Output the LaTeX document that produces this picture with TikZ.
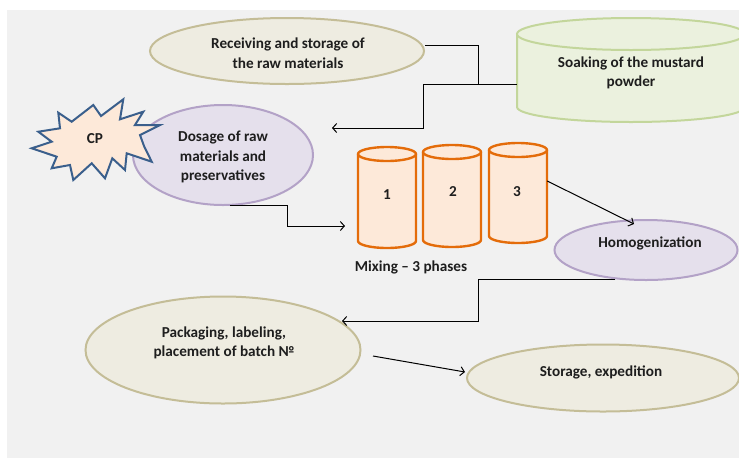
\documentclass[tikz,border=0pt]{standalone}
\usepackage{fontspec}
\setmainfont{Carlito}
\usetikzlibrary{arrows.meta,shapes.geometric}
\definecolor{bgc}{HTML}{F1F1F1}
\definecolor{tanfill}{HTML}{EEECE1}
\definecolor{tanline}{HTML}{C4BD97}
\definecolor{grnfill}{HTML}{EBF1DE}
\definecolor{grnline}{HTML}{C3D69B}
\definecolor{lavfill}{HTML}{E5E0EC}
\definecolor{lavline}{HTML}{B3A2C7}
\definecolor{orfill}{HTML}{FDE9D9}
\definecolor{orline}{HTML}{E46C0A}
\definecolor{starline}{HTML}{3A5F8C}
\definecolor{txt}{HTML}{1E1E1E}
\begin{document}
\begin{tikzpicture}[x=1pt,y=-1pt,
  lbl/.style={font=\fontsize{15.2}{19.5}\selectfont\bfseries, align=center, inner sep=0pt, text=txt},
  shapebase/.style={ellipse, inner sep=0pt, line width=2pt},
  tanell/.style={shapebase, draw=tanline, fill=tanfill},
  lavell/.style={shapebase, draw=lavline, fill=lavfill},
  orcyl/.style={draw=orline, fill=orfill, line width=2.4pt, line join=round},
  grncyl/.style={draw=grnline, fill=grnfill, line width=2pt},
  starst/.style={draw=starline, fill=orfill, line width=2pt, line join=miter},
  box/.style={rectangle, inner sep=0pt},
  conn/.style={line width=1pt, draw=black},
  arr/.style={conn, -{Straight Barb[length=4pt,width=9pt,line width=1pt]}}
]
\useasboundingbox (0,0) rectangle (739,459);
\fill[white] (0,0) rectangle (739,459);
\fill[bgc] (7,10) rectangle (739,458);

% Soaking cylinder (clipped at right edge)
\begin{scope}
\clip (7,10) rectangle (739,458);
\path[grncyl] (517,34) -- (517,107) arc[start angle=180, end angle=0, x radius=114, y radius=15] -- (745,34) -- cycle;
\path[grncyl] (631,34) ellipse[x radius=114, y radius=16];
\end{scope}
\node[box, minimum width=228pt, minimum height=104pt] (soak) at (631,70) {};
\node[lbl] (soakT) at (631,73) {Soaking of the mustard\\powder};

% Receiving
\node[tanell, minimum width=274pt, minimum height=66pt] (recv) at (287,51) {};
\node[lbl] (recvT) at (288,53) {Receiving and storage of\\the raw materials};

% Dosage
\node[lavell, minimum width=180pt, minimum height=100pt] (dose) at (223,155) {};
\node[lbl] (doseT) at (223,157) {Dosage of raw\\materials and\\preservatives};

% CP star
\path[starst] (58.3,112.7) -- (71.7,121.7) -- (93.3,105) -- (101,116) -- (123.3,99.3) -- (120,119.3)
  -- (143.3,111.7) -- (135,125) -- (160,125) -- (140,135) -- (144,146) -- (151.7,161.7) -- (126.7,153.3)
  -- (125,170) -- (112.3,158.3) -- (105,178.3) -- (91.7,163.3) -- (73.3,180) -- (70,165)
  -- (51.7,168.3) -- (56.7,156.7) -- (31.7,148.3) -- (51.7,141.7) -- (38.3,131.7) -- (60,128.3) -- cycle;
\node[lbl] (cp) at (95,139) {CP};

% Mixing cylinders
\foreach \n/\cx/\yt/\yb in {1/387/154/241, 2/452/152/240, 3/518/150/236}{
  \path[orcyl] (\cx-29,\yt) -- (\cx-29,\yb) arc[start angle=180, end angle=0, x radius=29, y radius=7] -- (\cx+29,\yt) -- cycle;
  \path[orcyl] (\cx,\yt) ellipse[x radius=29, y radius=7];
}
\node[box, minimum width=58pt, minimum height=101pt] (c1) at (387,197) {};
\node[box, minimum width=58pt, minimum height=101pt] (c2) at (452,196) {};
\node[box, minimum width=58pt, minimum height=101pt] (c3) at (518,193) {};
\node[lbl] (n1) at (387,195) {1};
\node[lbl] (n2) at (453,192) {2};
\node[lbl] (n3) at (517,192) {3};
\node[lbl] (mix) at (411,267) {Mixing – 3 phases};

% Homogenization
\node[lavell, minimum width=183pt, minimum height=60pt] (homo) at (646,250) {};
\node[lbl] (homoT) at (650,243) {Homogenization};

% Packaging
\node[tanell, minimum width=275pt, minimum height=107pt] (pack) at (223,350) {};
\node[lbl] (packT) at (224,343) {Packaging, labeling,\\placement of batch №};

% Storage
\node[tanell, minimum width=272pt, minimum height=67pt] (stor) at (603,378) {};
\node[lbl] (storT) at (601,372) {Storage, expedition};

% Connectors
\coordinate (a1) at (332,128);
\coordinate (a2) at (345,226);
\coordinate (a3) at (634,224);
\coordinate (a4) at (342,321);
\coordinate (a5) at (465,372);
\draw[conn] (recv.east |- 0,45) -- (478,45) -- (478,84.5) -- (soak.west |- 0,84.5);
\draw[arr] (soak.west |- 0,84.5) -- (423,84.5) -- (423,128) -- (a1);
\draw[arr] (230,205) -- (287,205) -- (287,226) -- (a2);
\draw[arr] (c3.east |- 0,181) -- (a3);
\draw[arr] (615,279.5) -- (478,279.5) -- (478,321) -- (a4);
\draw[arr] (373,356) -- (a5);
\end{tikzpicture}
\end{document}
